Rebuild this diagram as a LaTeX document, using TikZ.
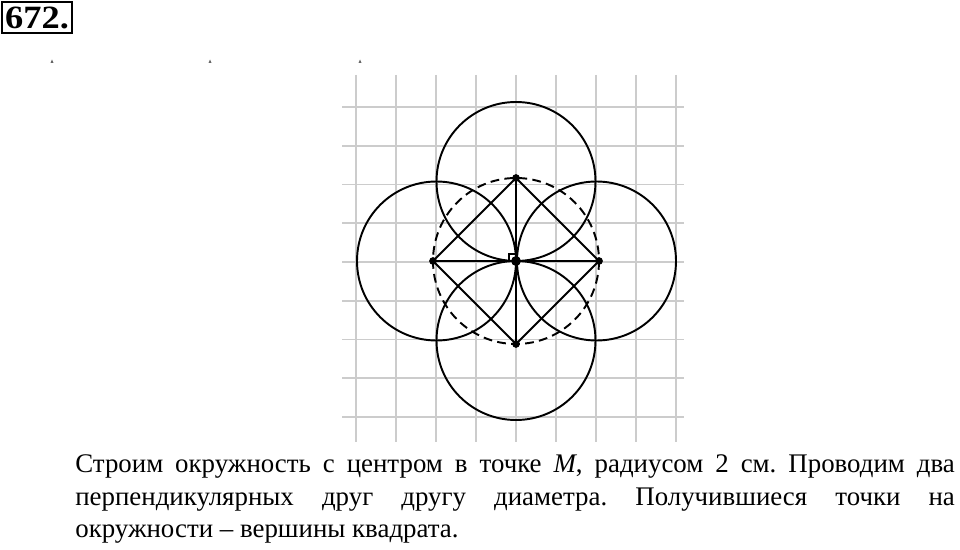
\documentclass[tikz,border=0pt]{standalone}
\usepackage{fontspec}
\setmainfont{Liberation Serif}
\begin{document}
\frenchspacing
\begin{tikzpicture}[x=0.02cm,y=-0.02cm,
  gridline/.style={draw=black!20, line width=1.1pt},
  ring/.style={draw=black, line width=1.1pt},
  dashring/.style={draw=black, line width=1.1pt, dash pattern=on 5pt off 3pt},
  seg/.style={draw=black, line width=1.1pt},
  dotnode/.style={circle, fill=black, inner sep=0pt, minimum size=4.4pt},
  bigdot/.style={circle, fill=black, inner sep=0pt, minimum size=5.6pt},
  txt/.style={anchor=base west, inner sep=0pt, font=\fontsize{15.3}{18}\selectfont},
  tinymark/.style={fill=black!60}]
\useasboundingbox (0,0) rectangle (960,550);
\fill[white] (0,0) rectangle (960,550);

% header
\node[draw, line width=1.1pt, minimum width=39.7pt, minimum height=17.6pt, inner sep=0pt,
      font=\bfseries\fontsize{18.5}{20}\selectfont] (num) at (37,17.5) {\scalebox{1.12}[1]{672.}};

% tiny marks
\fill[tinymark] (50.5,63) -- (52,59.5) -- (53.5,63) -- cycle;
\fill[tinymark] (208.5,63) -- (210,59.5) -- (211.5,63) -- cycle;
\fill[tinymark] (358.5,63) -- (360,59.5) -- (361.5,63) -- cycle;

% grid
\foreach \i in {0,...,8} \draw[gridline] (356+40*\i,75) -- (356+40*\i,442);
\foreach \j in {0,...,8} \draw[gridline] (342,107+38.75*\j) -- (684,107+38.75*\j);

% points
\coordinate (M) at (516,261);
\coordinate (cT) at (516,181.5);
\coordinate (cB) at (516,340.5);
\coordinate (cL) at (436.5,261);
\coordinate (cR) at (596.5,261);

% circles
\draw[ring] (cT) circle[radius=79.5];
\draw[ring] (cB) circle[radius=79.5];
\draw[ring] (cL) circle[radius=79.5];
\draw[ring] (cR) circle[radius=79.5];
\draw[dashring] (M) circle[radius=83];

\node[dotnode] (T) at (516,178) {};
\node[dotnode] (B) at (516,344) {};
\node[dotnode] (L) at (433,261) {};
\node[dotnode] (R) at (599,261) {};

% square and diameters
\draw[seg] (T.center) -- (R.center) -- (B.center) -- (L.center) -- cycle;
\draw[seg] (L.center) -- (R.center);
\draw[seg] (T.center) -- (B.center);

% right angle mark
\draw[black, line width=0.6pt] (509,254) rectangle (516,261);

\node[bigdot] (Mdot) at (M) {};

% text
\node[txt] (l1) at (75,472) {\makebox[500.6pt][s]{Строим окружность с центром в точке \textit{M}, радиусом 2 см. Проводим два}};
\node[txt] (l2) at (75,505) {\makebox[500.6pt][s]{перпендикулярных друг другу диаметра. Получившиеся точки на}};
\node[txt] (l3) at (75,537.5) {окружности – вершины квадрата.};
\end{tikzpicture}
\end{document}
